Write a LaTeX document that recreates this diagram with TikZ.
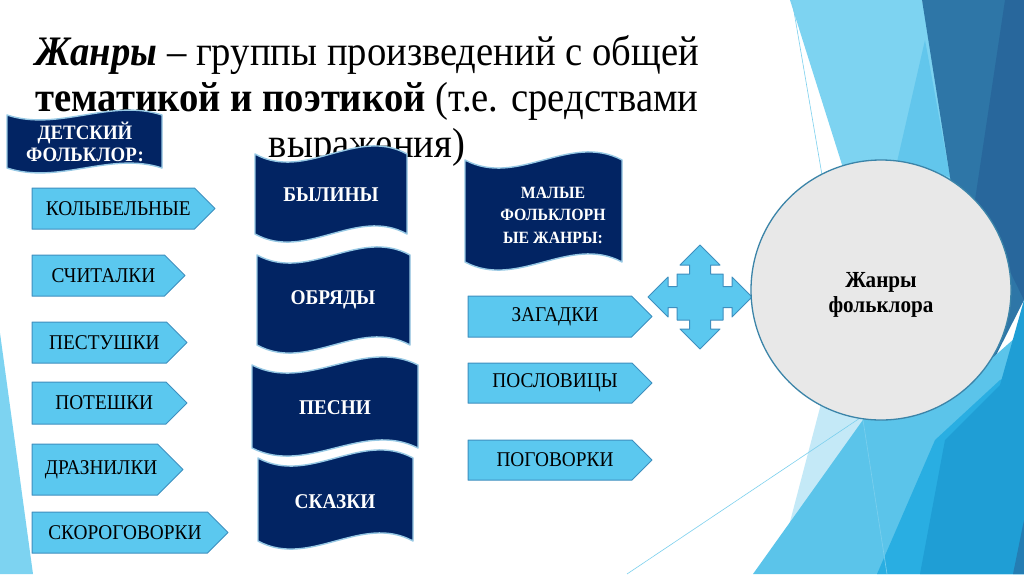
\documentclass[tikz,border=0pt]{standalone}
\usepackage{fontspec}
\setmainfont{Liberation Serif}[FakeStretch=0.92]
\usepackage{tikz}
\usetikzlibrary{positioning,calc}
\definecolor{bandlight}{RGB}{125,211,241}
\definecolor{bandmid}{RGB}{98,198,236}
\definecolor{banddark}{RGB}{46,118,167}
\definecolor{banddarker}{RGB}{40,103,156}
\definecolor{bandblue}{RGB}{31,158,213}
\definecolor{bandbright}{RGB}{41,174,226}
\definecolor{bandsky}{RGB}{91,196,234}
\definecolor{bandpale}{RGB}{196,233,247}
\definecolor{flagnavy}{RGB}{2,36,99}
\definecolor{flagedge}{RGB}{150,200,228}
\definecolor{platefill}{RGB}{91,200,239}
\definecolor{plateedge}{RGB}{62,143,191}
\definecolor{ringedge}{RGB}{59,132,168}

% wave-shaped banner: left x, top y, right x, bottom y, bend
\newcommand{\flagpath}[5]{%
  \filldraw[flag] (#1,#2) .. controls ({#1+(#3-#1)/3},{#2+#5}) and ({#1+2*(#3-#1)/3},{#2-#5}) .. (#3,#2)
    -- (#3,#4) .. controls ({#1+2*(#3-#1)/3},{#4-#5}) and ({#1+(#3-#1)/3},{#4+#5}) .. (#1,#4) -- cycle;}

\begin{document}
\begin{tikzpicture}[
x=1pt, y=-1pt,
flag/.style={fill=flagnavy, draw=flagedge, line width=1.4pt, line join=round},
flagtext/.style={text=white, font=\fontsize{21}{22}\selectfont\bfseries, align=center, inner sep=0pt},
plate/.style={fill=platefill, draw=plateedge, line width=1pt, line join=round},
platetext/.style={text=black, font=\fontsize{21}{24}\selectfont, inner sep=0pt},
headline/.style={font=\fontsize{42}{46}\selectfont, align=center, inner sep=0pt},
ring/.style={circle, minimum size=260pt, fill=black!9, draw=ringedge, line width=1.3pt},
ringtext/.style={align=center, inner sep=0pt, font=\fontsize{23}{25}\selectfont\bfseries},
thinline/.style={draw=bandsky!80!white, line width=0.6pt}
]
\useasboundingbox (0,0) rectangle (1024,574);
\fill[white] (0,0) rectangle (1024,574);

% background bands
\fill[bandlight] (0,333) -- (33,574) -- (0,574) -- cycle;
\fill[bandlight] (790,0) -- (922,0) -- (965,190) -- (850,190) -- cycle;
\fill[bandmid] (925,40) -- (950,177) -- (897,162) -- cycle;
\fill[banddark] (922,0) -- (1024,0) -- (1024,300) -- (985,377) -- (950,177) -- cycle;
\fill[banddarker] (1005,0) -- (1024,0) -- (1024,300) -- (975,200) -- cycle;
\fill[bandpale] (822,400) -- (880,405) -- (786,537) -- cycle;
\fill[bandsky] (870,410) -- (990,360) -- (1024,330) -- (1024,574) -- (753,574) -- cycle;
\fill[bandbright] (877,574) -- (935,440) -- (1000,380) -- (1024,370) -- (1024,574) -- cycle;
\fill[bandblue] (920,574) -- (945,440) -- (1000,385) -- (1024,300) -- (1024,574) -- cycle;
\fill[banddarker!60!bandblue] (1013,574) -- (1024,520) -- (1024,574) -- cycle;
\draw[thinline] (792,0) -- (822,175);
\draw[thinline] (627,574) -- (860,418);
\draw[thinline] (863,420) -- (887,574);

% heading
\node[headline] (title) at (367,101) {\textbf{\textit{Жанры}} – группы произведений с общей\\
  \textbf{тематикой и поэтикой} (т.е. средствами\\ выражения)};

% banners
\flagpath{7}{115}{162}{168}{17}
\node[flagtext, font=\fontsize{20.5}{21.5}\selectfont\bfseries] (child) at (85,142) {ДЕТСКИЙ\\ФОЛЬКЛОР:};
\flagpath{255}{154}{407}{234}{28}
\node[flagtext] (byliny) at (331,195) {БЫЛИНЫ};
\flagpath{257}{255}{410}{345}{28}
\node[flagtext] (obryady) at (333,300) {ОБРЯДЫ};
\flagpath{252}{365}{418}{448}{28}
\node[flagtext] (pesni) at (335,408) {ПЕСНИ};
\flagpath{258}{458}{413}{541}{28}
\node[flagtext] (skazki) at (335,502) {СКАЗКИ};
\flagpath{465}{160}{622}{262}{28}
\node[flagtext, font=\fontsize{17.2}{22.5}\selectfont\bfseries] (small) at (553,215) {МАЛЫЕ\\ФОЛЬКЛОРН\\ЫЕ ЖАНРЫ:};

% genre plates
\foreach \nm/\xa/\ya/\xb/\yb/\txt in {
  lullaby/32/188/215/229/КОЛЫБЕЛЬНЫЕ,
  counting/32/255/185/296/СЧИТАЛКИ,
  nursing/32/322/187/363/ПЕСТУШКИ,
  rhymes/32/382/187/424/ПОТЕШКИ,
  teasers/32/444/183/495/ДРАЗНИЛКИ,
  twisters/32/512/228/553/СКОРОГОВОРКИ,
  riddles/468/296/652/337/ЗАГАДКИ,
  proverbs/468/363/652/403/ПОСЛОВИЦЫ,
  sayings/468/440/652/480/ПОГОВОРКИ}
{
  \filldraw[plate] (\xa,\ya) -- ({\xb-(\yb-\ya)/2},\ya) -- (\xb,{(\ya+\yb)/2})
    -- ({\xb-(\yb-\ya)/2},\yb) -- (\xa,\yb) -- cycle;
  \node[platetext] (\nm) at ({(\xa+\xb-(\yb-\ya)/4)/2},{(\ya+\yb)/2}) {\txt};
}

% four-way arrow
\coordinate (quad) at (700,297);
\filldraw[plate, shift={(quad)}] (52,0) -- (32,-20) -- (32,-10.5) -- (23,-10.5) -- (23,-23) -- (10.5,-23)
  -- (10.5,-32) -- (20,-32) -- (0,-52) -- (-20,-32) -- (-10.5,-32) -- (-10.5,-23) -- (-23,-23)
  -- (-23,-10.5) -- (-32,-10.5) -- (-32,-20) -- (-52,0) -- (-32,20) -- (-32,10.5) -- (-23,10.5)
  -- (-23,23) -- (-10.5,23) -- (-10.5,32) -- (-20,32) -- (0,52) -- (20,32) -- (10.5,32) -- (10.5,23)
  -- (23,23) -- (23,10.5) -- (32,10.5) -- (32,20) -- cycle;

% centre circle
\node[ring] (genres) at (881,290) {};
\node[ringtext] (genrelabel) at ([yshift=-5pt]genres.center) {Жанры\\фольклора};
\end{tikzpicture}
\end{document}
